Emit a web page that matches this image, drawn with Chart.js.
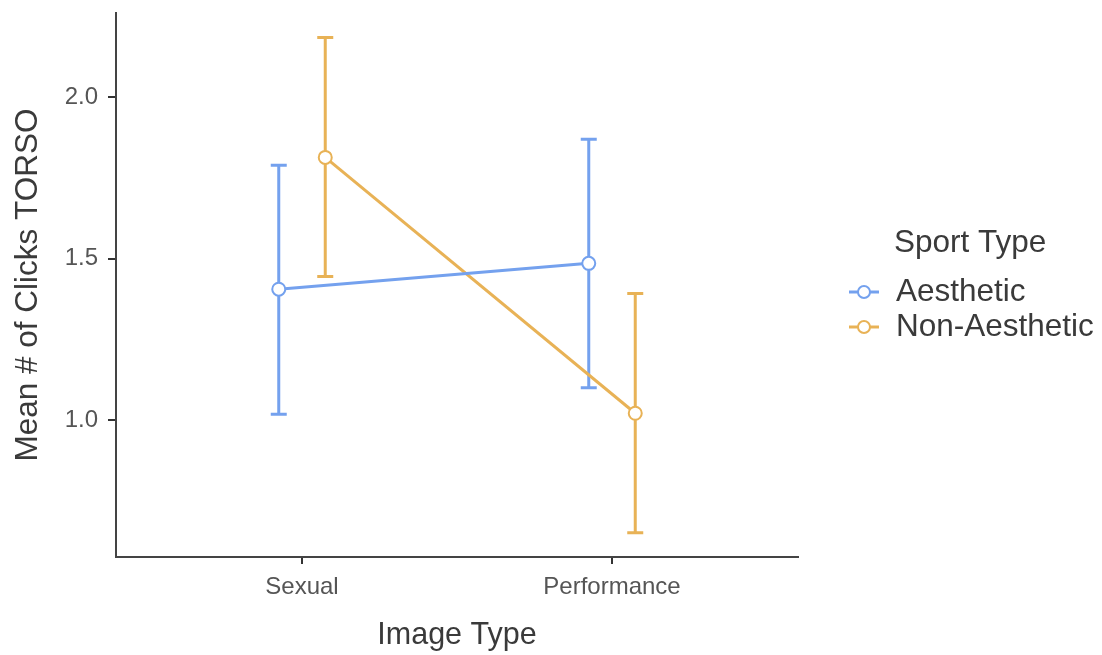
<!DOCTYPE html>
<html>
<head>
<meta charset="utf-8">
<script src="https://cdn.jsdelivr.net/npm/chart.js@4"></script>
<style>
  html, body { margin: 0; padding: 0; background: #fff; }
  #wrap { width: 1102px; height: 655px; }
</style>
</head>
<body>
<div id="wrap"><canvas id="plot"></canvas></div>
<script>
const imageTypes = ['Sexual', 'Performance'];
const sportTypes = ['Aesthetic', 'Non-Aesthetic'];

const aestheticMean = [1.405, 1.485];
const aestheticLower = [1.018, 1.100];
const aestheticUpper = [1.789, 1.869];

const nonAestheticMean = [1.813, 1.021];
const nonAestheticLower = [1.444, 0.651];
const nonAestheticUpper = [2.184, 1.392];

const yTicks = [1.0, 1.5, 2.0];

const blue = '#74a1ee';
const orange = '#e8b256';
const fontFamily = "'Liberation Sans', Arial, sans-serif";
const dodge = 0.075;

function points(means, shift) {
  return means.map((m, i) => ({ x: i + 1 + shift, y: m }));
}

// draws the confidence bars from the lower/upper arrays, through the scales
const errorBars = {
  id: 'errorBars',
  beforeDatasetsDraw(chart) {
    const { ctx, scales: { x, y } } = chart;
    chart.data.datasets.forEach((ds) => {
      ctx.save();
      ctx.strokeStyle = ds.borderColor;
      ctx.lineWidth = 3;
      ds.data.forEach((p, i) => {
        const px = x.getPixelForValue(p.x);
        const lo = y.getPixelForValue(ds.lower[i]);
        const hi = y.getPixelForValue(ds.upper[i]);
        ctx.beginPath();
        ctx.moveTo(px, lo); ctx.lineTo(px, hi);
        ctx.moveTo(px - 8, lo); ctx.lineTo(px + 8, lo);
        ctx.moveTo(px - 8, hi); ctx.lineTo(px + 8, hi);
        ctx.stroke();
      });
      ctx.restore();
    });
  }
};

// legend on the right, like the ggplot one
const sideLegend = {
  id: 'sideLegend',
  afterDraw(chart) {
    const ctx = chart.ctx;
    ctx.save();
    ctx.textBaseline = 'middle';
    ctx.textAlign = 'left';
    ctx.font = '31.5px ' + fontFamily;
    ctx.fillStyle = '#3a3a3a';
    ctx.fillText('Sport Type', 894, 243);
    chart.data.datasets.forEach((ds, i) => {
      const yy = 292 + i * 35;
      ctx.strokeStyle = ds.borderColor;
      ctx.lineWidth = 3;
      ctx.beginPath();
      ctx.moveTo(849, yy); ctx.lineTo(879, yy);
      ctx.stroke();
      ctx.beginPath();
      ctx.arc(864, yy, 6, 0, Math.PI * 2);
      ctx.fillStyle = '#fff';
      ctx.fill();
      ctx.lineWidth = 2;
      ctx.stroke();
      ctx.fillStyle = '#3a3a3a';
      ctx.fillText(ds.label, 896, yy);
    });
    ctx.restore();
  }
};

new Chart(document.getElementById('plot'), {
  type: 'line',
  data: {
    datasets: [{
      label: sportTypes[0],
      data: points(aestheticMean, -dodge),
      lower: aestheticLower,
      upper: aestheticUpper,
      borderColor: blue,
      borderWidth: 3,
      pointRadius: 6.5,
      pointBorderWidth: 2,
      pointBackgroundColor: '#fff',
      pointBorderColor: blue
    }, {
      label: sportTypes[1],
      data: points(nonAestheticMean, dodge),
      lower: nonAestheticLower,
      upper: nonAestheticUpper,
      borderColor: orange,
      borderWidth: 3,
      pointRadius: 6.5,
      pointBorderWidth: 2,
      pointBackgroundColor: '#fff',
      pointBorderColor: orange
    }]
  },
  options: {
    responsive: true,
    maintainAspectRatio: false,
    animation: false,
    layout: { padding: { top: 13, right: 304, left: 0, bottom: 0 } },
    plugins: {
      legend: { display: false },
      tooltip: { enabled: false }
    },
    scales: {
      x: {
        type: 'linear',
        min: 0.4,
        max: 2.6,
        afterBuildTicks: (axis) => { axis.ticks = imageTypes.map((c, i) => ({ value: i + 1 })); },
        afterFit: (axis) => { axis.height = 98; axis.paddingLeft = 0; axis.paddingRight = 0; },
        ticks: {
          callback: (v) => imageTypes[v - 1],
          color: '#555',
          padding: 9,
          font: { family: fontFamily, size: 24 },
          maxRotation: 0
        },
        grid: { display: true, drawOnChartArea: false, drawTicks: true, tickLength: 7, color: '#333', lineWidth: 2 },
        border: { display: true, color: '#444', width: 2 },
        title: {
          display: true,
          text: 'Image Type',
          color: '#3a3a3a',
          font: { family: fontFamily, size: 30.5 },
          padding: { top: 0, bottom: 1 }
        }
      },
      y: {
        min: 0.576,
        max: 2.26,
        afterBuildTicks: (axis) => { axis.ticks = yTicks.map(v => ({ value: v })); },
        afterFit: (axis) => { axis.width = 116; axis.paddingTop = 0; axis.paddingBottom = 0; },
        ticks: {
          callback: (v) => v.toFixed(1),
          color: '#555',
          padding: 10,
          font: { family: fontFamily, size: 24 }
        },
        grid: { display: true, drawOnChartArea: false, drawTicks: true, tickLength: 8, color: '#333', lineWidth: 2 },
        border: { display: true, color: '#444', width: 2 },
        title: {
          display: true,
          text: 'Mean # of Clicks TORSO',
          color: '#3a3a3a',
          font: { family: fontFamily, size: 31.5 },
          padding: { top: 9, bottom: 0 }
        }
      }
    }
  },
  plugins: [errorBars, sideLegend]
});
</script>
</body>
</html>
